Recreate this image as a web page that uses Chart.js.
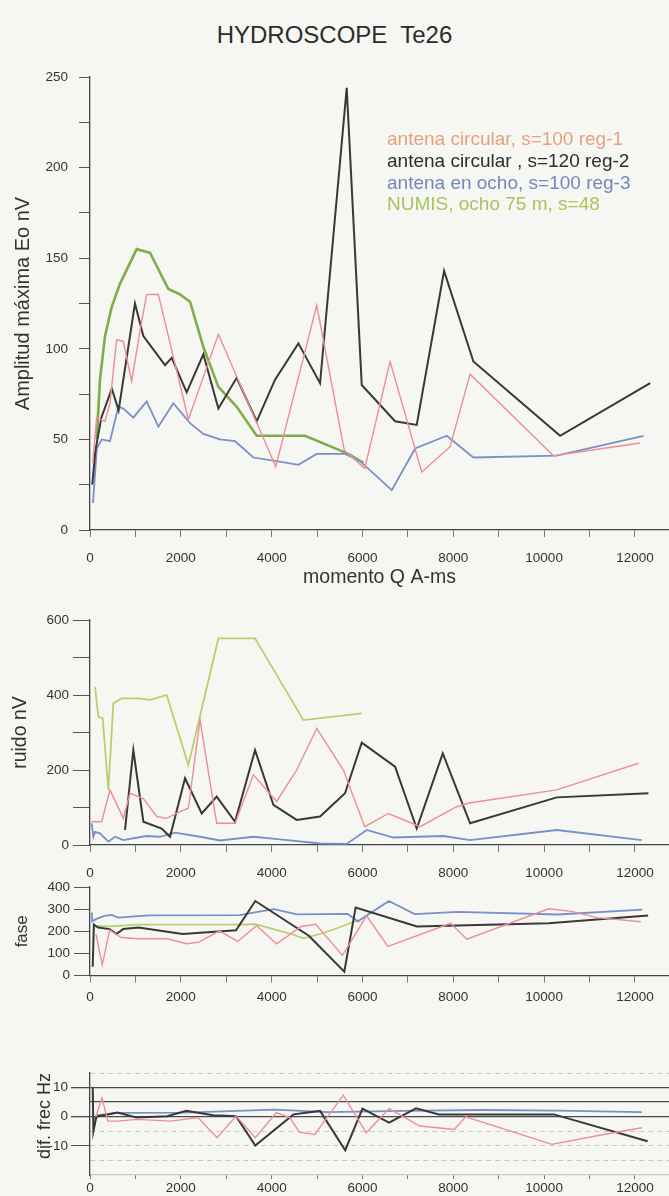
<!DOCTYPE html>
<html lang="es">
<head>
<meta charset="utf-8">
<title>HYDROSCOPE Te26</title>
<script src="https://cdn.jsdelivr.net/npm/chart.js@4.4.1/dist/chart.umd.min.js"></script>
<style>
  html, body { margin: 0; padding: 0; background: #f6f6f3; }
  body { width: 669px; height: 1196px; position: relative; overflow: hidden; font-family: "Liberation Sans", Arial, sans-serif; }
  #titulo { position: absolute; left: 0; top: 20px; width: 669px; text-align: center; font-size: 24px; line-height: 30px; color: #2b2b2b; }
  .panel { position: absolute; left: 0; }
  canvas { display: block; }
</style>
</head>
<body>
<div id="titulo">HYDROSCOPE&nbsp; Te26</div>
<div class="panel" style="top:0px"><canvas id="amplitud" width="669" height="605"></canvas></div>
<div class="panel" style="top:605px"><canvas id="ruido" width="669" height="285"></canvas></div>
<div class="panel" style="top:875px"><canvas id="fase" width="669" height="135"></canvas></div>
<div class="panel" style="top:1050px"><canvas id="difFrec" width="669" height="146"></canvas></div>

<script>
// eje x comun: momento Q (A-ms)
const marcasX = [0, 1000, 2000, 3000, 4000, 5000, 6000, 7000, 8000, 9000, 10000, 11000, 12000];
const etiquetasX = ['0', '', '2000', '', '4000', '', '6000', '', '8000', '', '10000', '', '12000'];

// series: [momento Q, valor]
const leyenda = ['antena circular, s=100 reg-1', 'antena circular , s=120 reg-2', 'antena en ocho, s=100 reg-3', 'NUMIS, ocho 75 m, s=48'];
const coloresLeyenda = ['#e9a07e', '#2e2e2e', '#7586bd', '#a9c45c'];

// amplitud maxima Eo nV
const ampReg1 = [[59,37],[147,62],[330,60],[440,70],[587,105],[734,104],[918,82],[1101,110],[1248,130],[1505,130],[2166,61],[2827,108],[4090,35],[4993,124],[5600,44],[6050,34],[6608,93],[7305,32],[7930,46],[8370,86],[10205,41],[12115,48]];
const ampReg2 = [[50,25],[120,44],[250,62],[480,78],[630,66],[990,125],[1175,107],[1652,91],[1799,95],[2129,76],[2496,97],[2827,67],[3230,84],[3671,60],[4075,83],[4589,103],[5066,81],[5653,244],[5984,80],[6718,60],[7195,58],[7797,143],[8443,93],[10352,52],[12335,81]];
const ampReg3 = [[66,15],[150,45],[257,50],[440,49],[624,68],[734,67],[954,62],[1248,71],[1505,57],[1835,70],[2203,59],[2496,53],[2863,50],[3194,49],[3598,40],[4111,38],[4589,36],[4993,42],[5616,42],[5947,38],[6645,22],[7159,45],[7856,52],[8443,40],[10279,41],[12188,52]];
const ampNumis = [[147,50],[220,83],[330,107],[477,123],[661,136],[1028,155],[1322,153],[1725,133],[1982,130],[2203,126],[2496,101],[2827,79],[3230,68],[3671,52],[4736,52],[5690,42],[6020,37]];

// ruido nV
const ruidoReg1 = [[37,62],[257,62],[440,147],[734,71],[881,138],[1175,124],[1468,76],[1689,71],[1982,89],[2166,98],[2423,333],[2790,58],[3194,58],[3598,187],[4111,116],[4552,200],[4993,311],[5580,200],[6050,49],[6571,84],[7269,49],[8076,102],[8350,112],[10279,147],[12078,218]];
const ruidoReg2 = [[771,40],[954,253],[1175,62],[1579,44],[1762,22],[2093,178],[2460,84],[2790,129],[3194,62],[3634,253],[4038,107],[4552,67],[5066,76],[5616,138],[5984,273],[6718,209],[7195,44],[7768,244],[8370,58],[10279,127],[12298,138]];
const ruidoReg3 = [[37,58],[73,22],[110,35],[220,31],[404,9],[551,22],[734,13],[954,18],[1248,24],[1542,22],[1872,33],[2423,22],[2863,12],[3598,22],[4185,15],[5066,4],[5653,3],[6094,40],[6681,20],[7782,24],[8370,13],[10279,40],[12151,13]];
const ruidoNumis = [[110,422],[184,342],[279,338],[404,147],[514,378],[697,391],[1065,391],[1322,387],[1689,400],[2166,213],[2827,551],[3634,551],[4699,333],[5984,351]];

// fase
const faseReg1 = [[132,187],[270,48],[434,205],[687,172],[1068,166],[1701,166],[2124,144],[2400,151],[2850,202],[3250,154],[3670,225],[4110,143],[4650,222],[4970,232],[5560,91],[6090,270],[6560,132],[7940,236],[8300,164],[10100,302],[10600,290],[11170,262],[12130,243]];
const faseReg2 = [[60,40],[85,230],[180,217],[434,210],[585,188],[728,210],[1068,217],[2037,188],[3216,205],[3640,337],[4819,180],[5600,17],[5850,308],[7200,222],[10100,236],[12290,272]];
const faseReg3 = [[40,285],[50,245],[130,255],[320,270],[480,274],[620,262],[840,265],[1300,272],[3300,273],[3600,285],[4050,300],[4560,277],[5670,279],[5900,245],[6580,337],[7150,278],[8100,288],[10300,276],[12160,298]];
const faseNumis = [[140,224],[434,222],[1068,230],[3300,230],[3640,232],[4400,190],[4700,168],[5100,190],[5450,215],[5900,250]];

// dif. frec Hz
const difReg1 = [[130,0],[264,6.5],[392,-1.5],[603,-1.5],[1024,-0.9],[1783,-1.5],[2378,-0.3],[2800,-7.2],[3216,0.2],[3640,-7.2],[4104,1.4],[4400,-0.3],[4611,-5.3],[4949,-6.1],[5577,7.4],[6083,-5.5],[6586,2.8],[7262,-3.2],[8021,-4.4],[8274,0],[10171,-9.5],[11309,-6.1],[12152,-3.8]];
const difReg2 = [[60,10],[75,-5],[140,0],[603,1.4],[1024,-0.3],[1700,0.2],[2120,2],[2710,0.5],[3215,0.2],[3640,-9.9],[4480,0.8],[5066,2],[5620,-11.5],[6000,2.8],[6586,-2],[7178,2.9],[7685,0.8],[10214,0.8],[12278,-8.4]];
const difReg3 = [[70,-1],[110,-0.5],[150,0.5],[600,1.3],[2100,1.4],[4060,2.4],[5240,1.6],[6900,2],[8600,2.3],[10300,2.1],[12150,1.6]];

const fuente = '"Liberation Sans", Arial, sans-serif';
const rosa = '#ec8e98', negro = '#383838', azul = '#7a8fc8';
Chart.defaults.font.family = fuente;
Chart.defaults.color = '#333';

function pares(lista) {
    return lista.map(p => ({ x: p[0], y: p[1] }));
}

function serie(label, data, color, ancho) {
    return { label, data: pares(data), borderColor: color, borderWidth: ancho, pointRadius: 0, tension: 0, fill: false };
}

const textoLeyenda = {
    id: 'textoLeyenda',
    afterDraw(chart) {
        const c = chart.ctx;
        c.save();
        c.font = `19px ${fuente}`;
        c.textBaseline = 'middle';
        leyenda.forEach((t, i) => {
            c.fillStyle = coloresLeyenda[i];
            c.fillText(t, 387, 140 + i * 21.7);
        });
        c.restore();
    }
};

function crearPanel(id, datasets, eje) {
    const ctx = document.getElementById(id).getContext('2d');
    return new Chart(ctx, {
        type: 'line',
        data: { datasets },
        options: {
            responsive: false,
            animation: false,
            events: [],
            layout: { padding: { top: eje.padTop, right: 0, bottom: 0, left: 0 } },
            plugins: { legend: { display: false }, tooltip: { enabled: false } },
            scales: {
                x: {
                    type: 'linear',
                    min: 0,
                    max: 12750,
                    afterBuildTicks: s => { s.ticks = marcasX.map(v => ({ value: v })); },
                    afterFit: s => { s.height = eje.altoX; },
                    grid: { drawOnChartArea: false, tickLength: eje.tickX, color: '#777', lineWidth: 1 },
                    border: { color: eje.bordeX || '#444', width: 1.3 },
                    ticks: {
                        autoSkip: false, maxRotation: 0, minRotation: 0,
                        padding: eje.padX, color: '#333', font: { size: 13.5 },
                        callback: (v, i) => etiquetasX[i] || ''
                    },
                    title: eje.tituloX ? {
                        display: true, text: eje.tituloX, color: '#333',
                        font: { size: 19.5 }, padding: { top: 0, bottom: 16 }
                    } : { display: false }
                },
                y: {
                    min: eje.min,
                    max: eje.max,
                    afterFit: s => { s.width = 90; },
                    grid: eje.gridY || { drawOnChartArea: false, tickLength: eje.tickY, color: '#555' },
                    border: eje.bordeY || { color: '#444', width: 1.3 },
                    ticks: {
                        stepSize: eje.paso, autoSkip: false, padding: eje.padY, color: '#333',
                        font: { size: 13.5 }, callback: eje.etiquetaY
                    },
                    title: {
                        display: true, text: eje.tituloY, color: '#333', align: eje.alinY || 'center',
                        font: { size: eje.fuenteY }, padding: { top: eje.posTituloY, bottom: 0 }
                    }
                }
            }
        },
        plugins: eje.extra ? [eje.extra] : []
    });
}

crearPanel('amplitud', [
    serie(leyenda[0], ampReg1, rosa, 1.4),
    serie(leyenda[1], ampReg2, negro, 2),
    serie(leyenda[2], ampReg3, azul, 1.8),
    serie(leyenda[3], ampNumis, '#7fae48', 2.6)
], {
    padTop: 77, altoX: 75, tickX: 7, padX: 12.9, tituloX: 'momento Q A-ms',
    min: 0, max: 250, paso: 25, tickY: 11, padY: 11,
    etiquetaY: v => v % 50 === 0 ? String(v) : '',
    tituloY: 'Amplitud máxima Eo nV', fuenteY: 20, posTituloY: 11,
    extra: textoLeyenda
});

crearPanel('ruido', [
    serie(leyenda[0], ruidoReg1, rosa, 1.4),
    serie(leyenda[1], ruidoReg2, negro, 2),
    serie(leyenda[2], ruidoReg3, azul, 1.8),
    serie(leyenda[3], ruidoNumis, '#b9cf6e', 1.8)
], {
    padTop: 15, altoX: 45, tickX: 7, padX: 12.9,
    min: 0, max: 600, paso: 100, tickY: 17, padY: 4,
    etiquetaY: v => v % 200 === 0 ? String(v) : '',
    tituloY: 'ruido nV', fuenteY: 19.5, posTituloY: 8.5
});

crearPanel('fase', [
    serie(leyenda[0], faseReg1, rosa, 1.4),
    serie(leyenda[1], faseReg2, negro, 2),
    serie(leyenda[2], faseReg3, azul, 1.8),
    serie(leyenda[3], faseNumis, '#b9cf6e', 1.8)
], {
    padTop: 11, altoX: 34.5, tickX: 7, padX: 6.4,
    min: 0, max: 400, paso: 100, tickY: 16, padY: 4,
    etiquetaY: v => String(v),
    tituloY: 'fase', fuenteY: 17, posTituloY: 12
});

const marcadas = [10, 0, -10];
crearPanel('difFrec', [
    serie(leyenda[0], difReg1, rosa, 1.4),
    serie(leyenda[1], difReg2, negro, 2),
    serie(leyenda[2], difReg3, azul, 1.8)
], {
    padTop: 23, altoX: 21, tickX: 4, padX: 0.9, bordeX: 'rgba(120,120,120,0.35)',
    min: -20, max: 15, paso: 5, tickY: 19, padY: 3,
    etiquetaY: v => marcadas.includes(v) ? String(v) : '',
    gridY: {
        drawOnChartArea: true,
        tickLength: 19,
        lineWidth: c => (c.tick && [10, 5, 0].includes(c.tick.value)) ? 1.3 : 1,
        color: c => {
            const v = c.tick ? c.tick.value : null;
            if ([10, 5, 0].includes(v)) return '#4a4a4a';
            if (v === -20) return 'rgba(0,0,0,0)';
            return '#c8c8c8';
        },
        tickColor: c => (c.tick && marcadas.includes(c.tick.value)) ? '#4a4a4a' : 'rgba(0,0,0,0)'
    },
    bordeY: {
        color: '#444', width: 1.3,
        dash: c => (c.tick && [15, -5, -10, -15].includes(c.tick.value)) ? [5, 4] : []
    },
    tituloY: 'dif. frec Hz', fuenteY: 18, posTituloY: 34, alinY: 'end'
});
</script>
</body>
</html>
